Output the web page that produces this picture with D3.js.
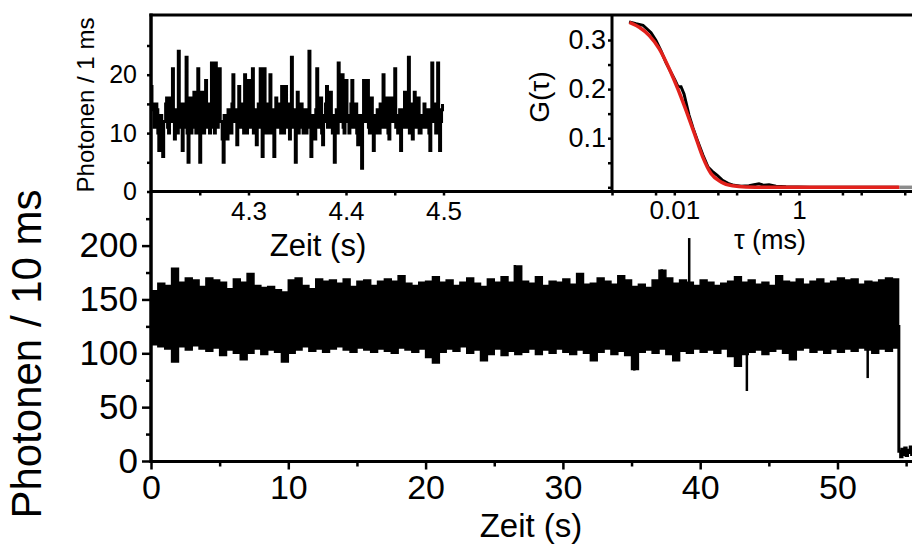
<html lang="de">
<head>
<meta charset="UTF-8">
<title>Photonen</title>
<style>
  body { margin: 0; background: #fff; }
  svg text { font-family: "Liberation Sans", Arial, sans-serif; fill: #000; }
</style>
</head>
<body>
<script src="https://d3js.org/d3.v7.min.js"></script>
<script>
// main trace: 10 ms counts, summarised as upper / lower envelope in 0.5 s bins
var binStart = 0, binWidth = 0.5, dropTime = 54.45;
var traceHigh = [
  158,165,163,179,166,170,168,162,170,168,
  166,160,169,166,174,163,161,162,159,157,
  168,170,163,160,169,167,168,165,169,162,
  167,168,163,167,169,167,172,165,163,166,
  167,171,166,168,163,166,170,165,162,169,
  166,171,166,181,167,165,171,163,167,166,
  169,164,174,164,165,170,167,164,172,168,
  162,164,161,168,177,170,165,168,166,163,
  168,166,163,165,167,171,166,168,164,166,
  163,172,167,166,169,164,167,169,165,167,
  170,168,169,164,167,166,168,170,169];
var traceLow = [
  108,106,104,92,106,103,107,104,102,105,
  98,103,100,94,100,104,99,103,101,92,
  100,103,106,102,104,101,104,106,103,101,
  105,103,101,104,102,100,105,103,101,104,
  96,91,101,104,102,106,100,103,93,99,
  104,98,102,99,101,104,99,103,100,104,
  101,99,103,100,93,101,104,99,102,98,
  85,101,103,100,104,99,93,102,100,104,
  101,103,100,104,97,88,99,101,103,99,
  102,104,100,94,103,105,101,103,100,104,
  101,104,102,105,103,100,104,102,105];
var spikeTime = [26.5, 37.2, 39.2, 35.2, 43.4, 52.2];
var spikeCounts = [182, 178, 207, 84, 65, 77];
var tailTime = [54.45, 54.47, 54.6, 54.7, 54.8, 54.9, 55.0, 55.1, 55.2, 55.3, 55.4, 55.5];
var tailCounts = [125, 9, 4, 11, 6, 12, 5, 10, 8, 13, 6, 9];
var mainXTicks = [0, 10, 20, 30, 40, 50];
var mainXMinor = [5, 15, 25, 35, 45, 55];
var mainYTicks = [0, 50, 100, 150, 200];
var mainYMinor = [25, 75, 125, 175, 225];

// inset 1: 1 ms counts from 4.200 s
var zoomStart = 4.2, zoomStep = 0.001;
var zoomCounts = [
  18,14,15,11,11,15,14,10,7,13,13,9,6,12,12,15,16,11,10,14,
  16,12,21,13,9,14,13,10,24,12,11,15,7,11,15,12,23,10,5,13,
  16,10,11,14,17,12,10,15,21,11,5,12,17,10,10,14,19,11,12,15,
  10,13,22,11,14,10,22,13,11,15,21,12,12,9,5,13,13,11,9,14,
  13,10,10,15,20,12,12,14,8,13,18,11,11,14,15,10,20,12,10,14,
  19,11,12,15,21,10,14,12,8,13,15,11,21,12,6,14,21,10,11,15,
  14,10,20,13,10,14,6,12,16,11,11,15,14,10,18,12,10,14,18,11,
  12,15,9,13,23,11,11,14,5,12,17,10,12,14,15,11,10,13,14,10,
  11,14,24,12,6,13,13,10,9,14,21,11,12,15,16,10,8,12,13,15,
  18,11,11,14,17,12,10,13,5,12,14,10,22,13,12,15,20,11,10,14,
  19,12,13,10,11,15,19,11,12,14,15,10,8,13,13,11,4,12,19,13,
  12,15,19,11,10,14,16,12,7,13,12,10,14,12,10,15,13,11,20,12,
  11,14,16,10,9,13,16,12,12,15,21,11,13,10,10,14,7,12,14,11,
  17,12,11,14,23,10,13,15,9,12,17,11,12,14,16,10,10,13,13,11,
  15,12,11,14,14,10,7,13,22,12,13,15,10,11,22,13,7,12,14,15];
var zoomXTicks = [4.3, 4.4, 4.5];
var zoomXMinor = [4.25, 4.35, 4.45];
var zoomYTicks = [0, 10, 20];
var zoomYMinor = [5, 15, 25];

// inset 2: correlation curve
var tauData = [0.00188,0.00243,0.00315,0.00423,0.00508,0.00612,0.00736,0.00885,0.01026,0.01146,
  0.01282,0.01432,0.01722,0.01995,0.0240,0.0289,0.0348,0.0403,0.0484,0.0583,
  0.0728,0.0907,0.1178,0.158,0.190,0.229,0.275,0.331,0.428,0.621,1.5,5,20,40];
var gData = [0.337,0.333,0.330,0.315,0.299,0.278,0.254,0.234,0.218,0.205,
  0.205,0.190,0.147,0.121,0.092,0.065,0.041,0.033,0.025,0.015,
  0.008,0.004,0.002,0.003,0.005,0.007,0.004,0.005,0.002,0.001,0,0,0,0];
var tauFit = [0.0019,0.00274,0.00397,0.00574,0.00832,0.01135,0.0154,0.021,0.0286,0.0388,0.0562,0.0865,0.1415,0.3,1,5,40.9];
var gFit = [0.336,0.326,0.309,0.282,0.241,0.201,0.157,0.110,0.062,0.028,0.011,0.003,0.0005,0,0,0,0];
var tauTail = [40.9, 80];
var gTail = [0, 0];
var tauTicks = [0.01, 1];
var tauMinor = [0.001, 0.005, 0.05, 0.1, 0.5, 5, 10, 50];
var gTicks = [0.1, 0.2, 0.3];
var gMinor = [0, 0.05, 0.15, 0.25];

var svg = d3.select("body").append("svg").attr("width", 912).attr("height", 545);
var font = "'Liberation Sans', Arial, sans-serif";

var x = d3.scaleLinear().domain([0, 55.5]).range([151, 913]);
var y = d3.scaleLinear().domain([0, 200]).range([461, 245.6]);
var xi = d3.scaleLinear().domain([4.2, 4.5]).range([151, 443.5]);
var yi = d3.scaleLinear().domain([0, 30]).range([191.5, 16.3]);
var xc = d3.scaleLog().domain([0.001, 100]).range([612, 923.5]);
var yc = d3.scaleLinear().domain([0, 0.3]).range([187.3, 40]);

function axisStyle(g, size) {
    g.select(".domain").remove();
    g.attr("font-family", font).attr("font-size", size);
    g.selectAll("line").attr("stroke-width", 2.5);
}

// main trace
var bins = traceHigh.map(function(h, i){ return {t: binStart + i * binWidth, hi: h, lo: traceLow[i]}; });
bins.push({t: dropTime, hi: traceHigh[traceHigh.length - 1], lo: traceLow[traceLow.length - 1]});
svg.append("path").datum(bins)
    .attr("d", d3.area().curve(d3.curveStepAfter)
        .x(function(d){ return x(d.t); })
        .y0(function(d){ return y(d.lo); })
        .y1(function(d){ return y(d.hi); }))
    .attr("fill", "#000").attr("stroke", "#000").attr("stroke-width", 1.5);

svg.selectAll(".spike").data(spikeTime).enter().append("line").attr("class", "spike")
    .attr("x1", function(d){ return x(d); }).attr("x2", function(d){ return x(d); })
    .attr("y1", y(130)).attr("y2", function(d, i){ return y(spikeCounts[i]); })
    .attr("stroke", "#000").attr("stroke-width", 2.5);

svg.append("path").datum(tailTime)
    .attr("d", d3.line().curve(d3.curveStepAfter)
        .x(function(d){ return x(d); })
        .y(function(d, i){ return y(tailCounts[i]); }))
    .attr("fill", "none").attr("stroke", "#000").attr("stroke-width", 3);

// main axes
svg.append("g").attr("transform", "translate(151,0)")
    .call(d3.axisLeft(y).tickValues(mainYTicks).tickSize(9).tickPadding(4).tickSizeOuter(0))
    .call(axisStyle, 35);
svg.append("g").attr("transform", "translate(151,0)")
    .call(d3.axisLeft(y).tickValues(mainYMinor).tickSize(5).tickFormat("").tickSizeOuter(0))
    .call(axisStyle, 35);
svg.append("g").attr("transform", "translate(0,461.5)")
    .call(d3.axisBottom(x).tickValues(mainXTicks).tickSize(8).tickPadding(5).tickSizeOuter(0))
    .call(axisStyle, 34);
svg.append("g").attr("transform", "translate(0,461.5)")
    .call(d3.axisBottom(x).tickValues(mainXMinor).tickSize(5).tickFormat("").tickSizeOuter(0))
    .call(axisStyle, 34);

svg.append("text").attr("transform", "translate(41,354) rotate(-90)")
    .attr("text-anchor", "middle").style("font-size", "42px").text("Photonen / 10 ms");
svg.append("text").attr("x", 531).attr("y", 537)
    .attr("text-anchor", "middle").style("font-size", "33px").text("Zeit (s)");

// inset 1 trace
svg.append("path").datum(zoomCounts)
    .attr("d", d3.line().curve(d3.curveStepAfter)
        .x(function(d, i){ return xi(zoomStart + i * zoomStep); })
        .y(function(d){ return yi(d); }))
    .attr("fill", "none").attr("stroke", "#000").attr("stroke-width", 3);

svg.append("g").attr("transform", "translate(151,0)")
    .call(d3.axisLeft(yi).tickValues(zoomYTicks).tickSize(4).tickPadding(10).tickSizeOuter(0))
    .call(axisStyle, 25);
svg.append("g").attr("transform", "translate(151,0)")
    .call(d3.axisLeft(yi).tickValues(zoomYMinor).tickSize(4).tickFormat("").tickSizeOuter(0))
    .call(axisStyle, 25);
svg.append("g").attr("transform", "translate(0,191.5)")
    .call(d3.axisBottom(xi).tickValues(zoomXTicks).tickSize(4).tickPadding(6).tickFormat(d3.format(".1f")).tickSizeOuter(0))
    .call(axisStyle, 26);
svg.append("g").attr("transform", "translate(0,191.5)")
    .call(d3.axisBottom(xi).tickValues(zoomXMinor).tickSize(4).tickFormat("").tickSizeOuter(0))
    .call(axisStyle, 26);

svg.append("text").attr("transform", "translate(94,105) rotate(-90)")
    .attr("text-anchor", "middle").style("font-size", "24px").text("Photonen / 1 ms");
svg.append("text").attr("x", 318).attr("y", 256)
    .attr("text-anchor", "middle").style("font-size", "31px").text("Zeit (s)");

// inset 2 curves
svg.append("path").datum(tauData)
    .attr("d", d3.line()
        .x(function(d){ return xc(d); })
        .y(function(d, i){ return yc(gData[i]); }))
    .attr("fill", "none").attr("stroke", "#000").attr("stroke-width", 3);
svg.append("path").datum(tauTail)
    .attr("d", d3.line()
        .x(function(d){ return xc(d); })
        .y(function(d, i){ return yc(gTail[i]); }))
    .attr("fill", "none").attr("stroke", "#8c8c8c").attr("stroke-width", 3.5);
svg.append("path").datum(tauFit)
    .attr("d", d3.line().curve(d3.curveMonotoneX)
        .x(function(d){ return xc(d); })
        .y(function(d, i){ return yc(gFit[i]); }))
    .attr("fill", "none").attr("stroke", "#e2211c").attr("stroke-width", 3.5);

svg.append("g").attr("transform", "translate(612,0)")
    .call(d3.axisLeft(yc).tickValues(gTicks).tickSize(4).tickPadding(2).tickFormat(d3.format(".1f")).tickSizeOuter(0))
    .call(axisStyle, 27);
svg.append("g").attr("transform", "translate(612,0)")
    .call(d3.axisLeft(yc).tickValues(gMinor).tickSize(4).tickFormat("").tickSizeOuter(0))
    .call(axisStyle, 27);
svg.append("g").attr("transform", "translate(0,191.5)")
    .call(d3.axisBottom(xc).tickValues(tauTicks).tickSize(4).tickPadding(5).tickFormat(d3.format("~g")).tickSizeOuter(0))
    .call(axisStyle, 26);
svg.append("g").attr("transform", "translate(0,191.5)")
    .call(d3.axisBottom(xc).tickValues(tauMinor).tickSize(4).tickFormat("").tickSizeOuter(0))
    .call(axisStyle, 26);

svg.append("text").attr("transform", "translate(549,97) rotate(-90)")
    .attr("text-anchor", "middle").style("font-size", "28px").text("G(\u03c4)");
svg.append("text").attr("x", 770).attr("y", 249)
    .attr("text-anchor", "middle").style("font-size", "27px").text("\u03c4 (ms)");

// frames
var frame = svg.append("g").attr("stroke", "#000").attr("stroke-width", 3);
frame.append("line").attr("x1", 149.5).attr("x2", 912).attr("y1", 15).attr("y2", 15);
frame.append("line").attr("x1", 151).attr("x2", 912).attr("y1", 191.5).attr("y2", 191.5);
frame.append("line").attr("x1", 612).attr("x2", 612).attr("y1", 15).attr("y2", 191.5);
frame.append("line").attr("x1", 151).attr("x2", 151).attr("y1", 13.5).attr("y2", 463).attr("stroke-width", 3.5);
frame.append("line").attr("x1", 151).attr("x2", 912).attr("y1", 461.5).attr("y2", 461.5);
</script>
</body>
</html>
